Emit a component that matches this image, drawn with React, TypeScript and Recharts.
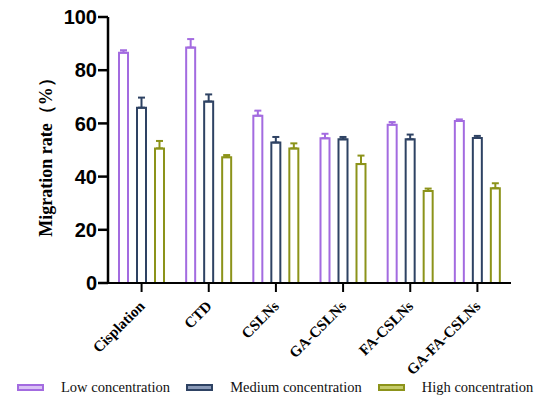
import React from 'react';
import { BarChart, Bar, XAxis, YAxis, ErrorBar, Legend, Label } from 'recharts';

const categories = ['Cisplation', 'CTD', 'CSLNs', 'GA-CSLNs', 'FA-CSLNs', 'GA-FA-CSLNs'];
const lowValues = [86.6, 88.5, 62.9, 54.4, 59.5, 60.9];
const lowErrors = [0.9, 3.2, 1.9, 1.7, 1.0, 0.6];
const mediumValues = [65.9, 68.2, 52.8, 54.0, 54.0, 54.5];
const mediumErrors = [3.8, 2.7, 2.1, 0.9, 1.8, 0.8];
const highValues = [50.6, 47.3, 50.6, 44.7, 34.6, 35.6];
const highErrors = [2.8, 0.8, 1.9, 3.2, 0.9, 1.9];
const yTicks = [0, 20, 40, 60, 80, 100];
const seriesNames = ['Low concentration', 'Medium concentration', 'High concentration'];

const COLORS = ['#A36BE0', '#2E4263', '#8C931A'];
const SWATCH_FILLS = ['#d9c2f5', '#8a9ab8', '#c5cb6a'];

const data = categories.map((c, i) => ({
  name: c,
  low: lowValues[i],
  lowErr: [0, lowErrors[i]],
  medium: mediumValues[i],
  mediumErr: [0, mediumErrors[i]],
  high: highValues[i],
  highErr: [0, highErrors[i]],
}));

const XTick = (props: any) => {
  const { x, y, payload } = props;
  return (
    <text
      transform={`translate(${x + 4},${y + 13}) rotate(-45)`}
      textAnchor="end"
      fontFamily="'Liberation Serif', 'Times New Roman', serif"
      fontWeight="bold"
      fontSize={15}
      fill="#000"
    >
      {payload.value}
    </text>
  );
};

const LegendContent = () => (
  <div style={{ display: 'flex', alignItems: 'center', height: 24, width: 550, whiteSpace: 'nowrap', fontFamily: "'Liberation Serif', 'Times New Roman', serif", fontSize: 14.5, color: '#111' }}>
    {seriesNames.map((n, i) => (
      <div key={n} style={{ display: 'flex', alignItems: 'center', flex: 'none', marginLeft: i === 0 ? 17 : 16 }}>
        <div style={{ width: 23, height: 3, flex: 'none', border: `2px solid ${COLORS[i]}`, background: SWATCH_FILLS[i] }} />
        <span style={{ marginLeft: 17, whiteSpace: 'nowrap' }}>{n}</span>
      </div>
    ))}
  </div>
);

export default function App() {
  return (
    <div style={{ width: 550, height: 399, background: '#fff' }}>
      <style>{`body{margin:0;}`}</style>
      <BarChart
        width={550}
        height={399}
        data={data}
        margin={{ top: 17, right: 39, bottom: 0, left: 0 }}
        barSize={9}
        barGap={9}
        barCategoryGap={0}
      >
        <XAxis
          dataKey="name"
          interval={0}
          height={92}
          tick={<XTick />}
          axisLine={{ stroke: '#000', strokeWidth: 2 }}
          tickLine={{ stroke: '#000', strokeWidth: 2 }}
          tickSize={9}
        />
        <YAxis
          width={108}
          domain={[0, 100]}
          ticks={yTicks}
          interval={0}
          axisLine={{ stroke: '#000', strokeWidth: 2.5 }}
          tickLine={{ stroke: '#000', strokeWidth: 2.5 }}
          tickSize={10}
          tickMargin={1}
          tick={{ fill: '#000', fontFamily: "'Liberation Sans', Arial, sans-serif", fontWeight: 'bold', fontSize: 20 }}
        >
          <Label
            content={() => (
              <text
                transform="translate(52,153) rotate(-90)"
                textAnchor="middle"
                fontFamily="'Liberation Serif', 'Times New Roman', serif"
                fontWeight="bold"
                fontSize={18}
                fill="#000"
              >
                Migration rate（%）
              </text>
            )}
          />
        </YAxis>
        <Legend
          verticalAlign="bottom"
          align="left"
          wrapperStyle={{ height: 24, width: 550, left: 0, bottom: 0 }}
          content={<LegendContent />}
        />
        <Bar dataKey="low" name={seriesNames[0]} fill="#fff" stroke={COLORS[0]} strokeWidth={2} isAnimationActive={false}>
          <ErrorBar dataKey="lowErr" direction="y" width={3.5} stroke={COLORS[0]} strokeWidth={2} isAnimationActive={false} />
        </Bar>
        <Bar dataKey="medium" name={seriesNames[1]} fill="#fff" stroke={COLORS[1]} strokeWidth={2} isAnimationActive={false}>
          <ErrorBar dataKey="mediumErr" direction="y" width={3.5} stroke={COLORS[1]} strokeWidth={2} isAnimationActive={false} />
        </Bar>
        <Bar dataKey="high" name={seriesNames[2]} fill="#fff" stroke={COLORS[2]} strokeWidth={2} isAnimationActive={false}>
          <ErrorBar dataKey="highErr" direction="y" width={3.5} stroke={COLORS[2]} strokeWidth={2} isAnimationActive={false} />
        </Bar>
      </BarChart>
    </div>
  );
}
